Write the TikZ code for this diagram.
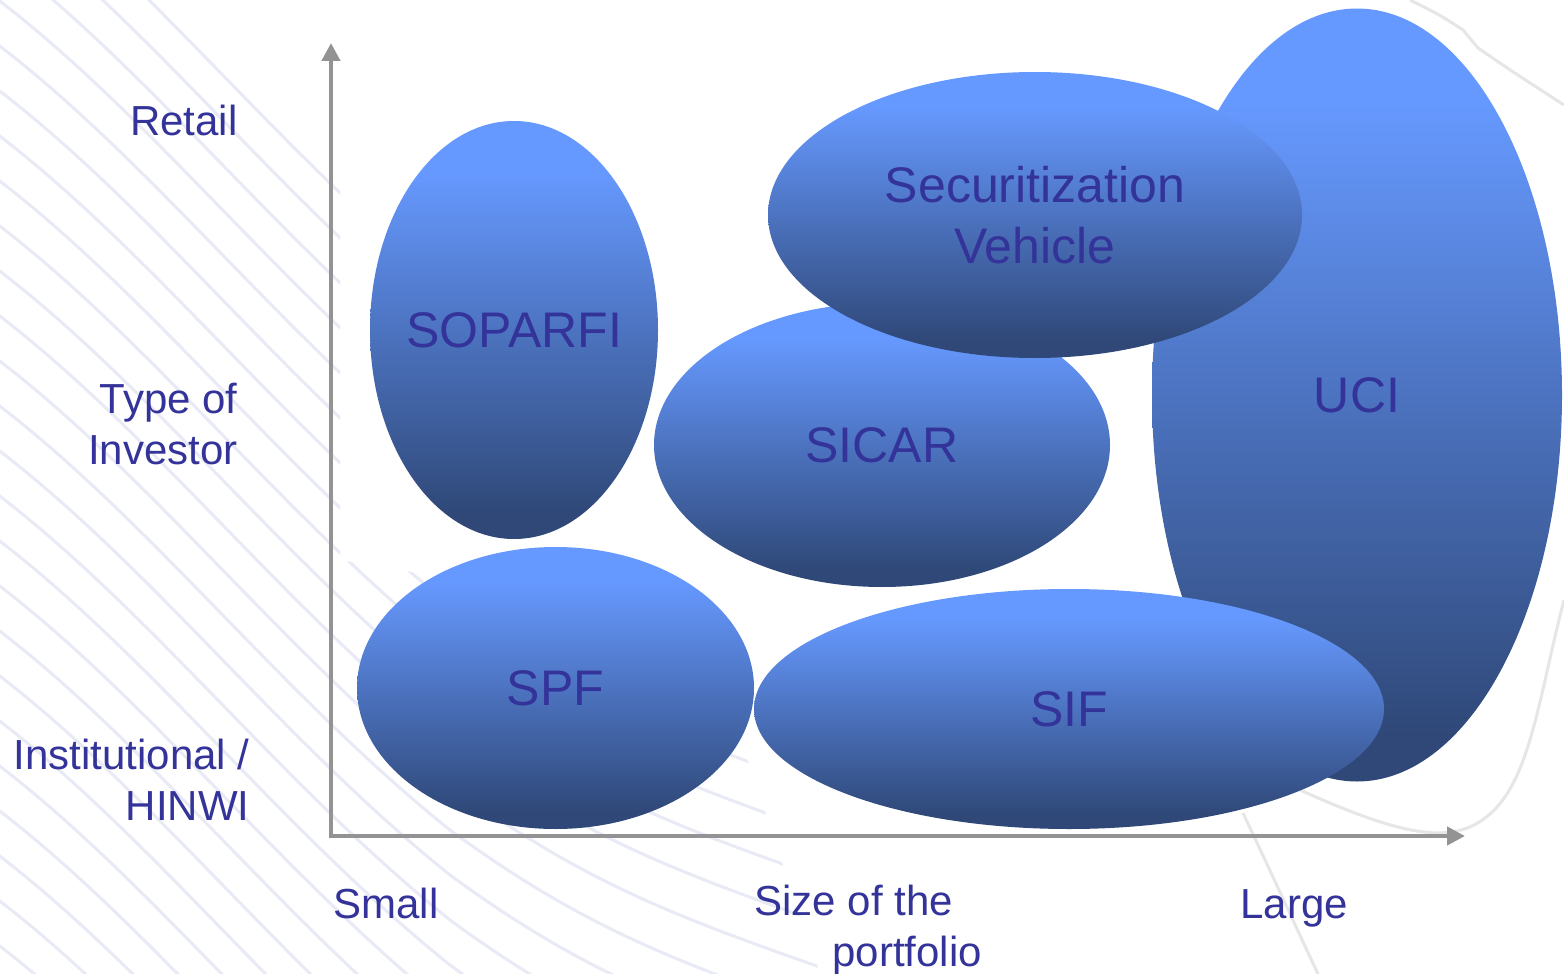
\documentclass[tikz,border=0pt]{standalone}
\usepackage{fontspec}
\setmainfont{Liberation Sans}
\usetikzlibrary{shapes.geometric,arrows.meta}
\definecolor{lt}{HTML}{6699FF}
\definecolor{dk}{HTML}{2F4878}
\definecolor{txt}{HTML}{333399}
\definecolor{axisgray}{HTML}{939393}
\definecolor{bgl}{HTML}{E8EAF5}
\definecolor{bgg}{HTML}{E6E6E6}
\pgfdeclareverticalshading{blobshade}{100bp}{color(0bp)=(dk); color(28bp)=(dk); color(69bp)=(lt); color(100bp)=(lt)}
\tikzset{
  blob/.style={ellipse, shading=blobshade, draw=none, inner sep=0pt, text=txt,
    font=\fontsize{25}{30.5}\selectfont, align=center},
  lab/.style={text=txt, font=\fontsize{21}{25.5}\selectfont, inner sep=0pt},
  axisline/.style={draw=axisgray, line width=2.2pt,
    {Triangle[width=9pt,length=9pt]}-{Triangle[width=9pt,length=9pt]}},
  bgline/.style={draw=bgl, line width=1.5pt},
  bggray/.style={draw=bgg, line width=1.5pt}
}
\begin{document}
\begin{tikzpicture}[x=0.5pt, y=-0.5pt]
\useasboundingbox[fill=white] (0,0) rectangle (1564,974);
% faint background texture
\begin{scope}
\clip (0,0) -- (340,0) -- (340,560) -- (700,620) -- (820,974) -- (0,974) -- cycle;
\foreach \i in {0,...,26}{
  \draw[bgline] (-100,-200+45*\i) .. controls (100,-90+45*\i) and (250,130+45*\i) .. (450,290+45*\i)
     .. controls (600,400+45*\i) and (700,430+45*\i) .. (900,500+45*\i);
}
\end{scope}
\draw[bggray] (1410,0) .. controls (1440,15) .. (1463,30) -- (1478,48) .. controls (1510,70) .. (1564,105);
\draw[bggray] (1300,790) .. controls (1400,835) and (1450,845) .. (1485,818) .. controls (1530,785) and (1538,700) .. (1564,600);
\draw[bggray] (1243,813) .. controls (1270,870) and (1295,925) .. (1318,974);
% ellipses
\node[blob, minimum width=205pt, minimum height=386.5pt] (uci) at (1357,395) {UCI};
\node[blob, minimum width=315pt, minimum height=120pt] (sif) at (1069,709) {SIF};
\node[blob, minimum width=228pt, minimum height=142pt] (sicar) at (882,445) {SICAR};
\node[blob, minimum width=267pt, minimum height=143pt] (secv) at (1035,215) {Securitization\\Vehicle};
\node[blob, minimum width=144pt, minimum height=209pt] (soparfi) at (514,330) {\makebox[0pt]{SOPARFI}};
\node[blob, minimum width=198.5pt, minimum height=141pt] (spf) at (555.5,688) {SPF};
% axes
\coordinate (ytop) at (331,43);
\coordinate (orig) at (331,836);
\coordinate (xend) at (1465,836);
\draw[axisline] (ytop) -- (orig) -- (xend);
% labels
\node[lab, anchor=base east] (retail) at (238,135) {Retail};
\node[lab, anchor=base east, align=right] (type) at (238,464) {Type of\\Investor};
\node[lab, anchor=base east, align=right] (inst) at (250,820) {Institutional /\\HINWI};
\node[lab, anchor=base west] (small) at (333,918) {Small};
\node[lab, anchor=base west, align=left] (size) at (754,966) {Size of the\\\hspace*{39pt}portfolio};
\node[lab, anchor=base west] (large) at (1240,918) {Large};
\end{tikzpicture}
\end{document}
